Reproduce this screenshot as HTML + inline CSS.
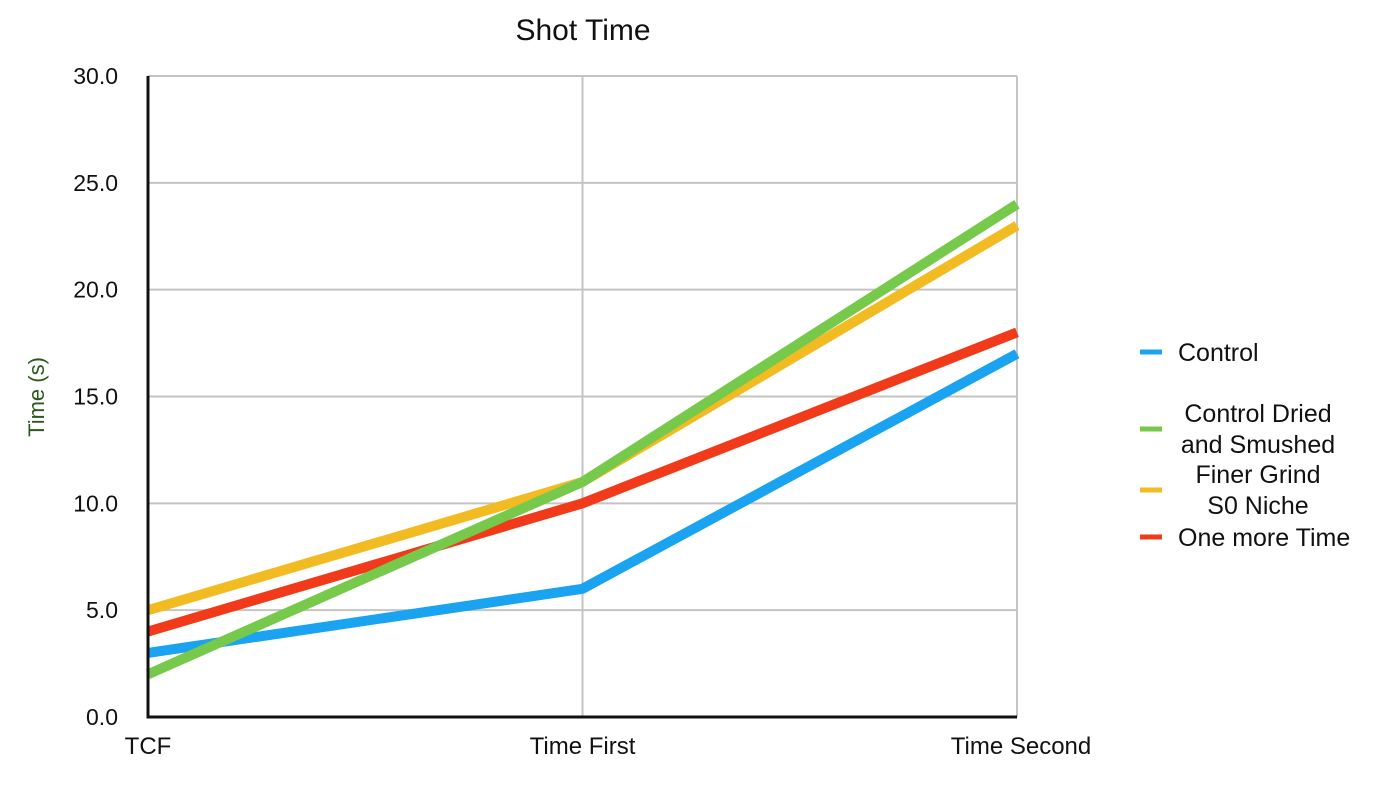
<!DOCTYPE html>
<html><head><meta charset="utf-8"><style>
body{margin:0;background:#fff;}
svg text{font-family:"Liberation Sans",sans-serif;}
</style></head><body>
<svg id="chart" width="1381" height="799" xmlns="http://www.w3.org/2000/svg">
<text x="583" y="40" font-size="30" text-anchor="middle" fill="#111">Shot Time</text>
<text transform="translate(44,397) rotate(-90)" font-size="22" text-anchor="middle" fill="#2a5a1a">Time (s)</text>
<g id="grid"></g><g id="series"></g><g id="axes"></g><g id="legend"></g>
</svg>
<script>
const categories=["TCF","Time First","Time Second"];
const yTicks=[0,5,10,15,20,25,30];
const seriesNames=["Control","Control Dried|and Smushed","Finer Grind|S0 Niche","One more Time"];
const control=[3,6,17];
const controlDried=[2,11,24];
const finerGrind=[5,11,23];
const oneMore=[4,10,18];
const colors=["#1aa3f0","#76c94a","#f2bb22","#f03a1a"];
const drawOrder=[0,2,3,1];
const values=[control,controlDried,finerGrind,oneMore];
const NS="http://www.w3.org/2000/svg";
const x0=148,x1=1017,yB=717,yT=76;
const xs=i=>x0+(x1-x0)*i/(categories.length-1);
const ys=v=>yB-(yB-yT)*v/30;
function mk(t,a,p){const e=document.createElementNS(NS,t);for(const k in a)e.setAttribute(k,a[k]);p.appendChild(e);return e;}
const grid=document.getElementById('grid'),axes=document.getElementById('axes'),ser=document.getElementById('series'),leg=document.getElementById('legend');
yTicks.forEach(v=>{
 if(v>0){const g=mk('line',{x1:x0,x2:x1,y1:ys(v),y2:ys(v),stroke:'#c4c4c4','stroke-width':2},grid);
 
 }
 const t=mk('text',{x:118,y:ys(v)+8,'font-size':23,'text-anchor':'end',fill:'#111'},axes);t.textContent=v.toFixed(1);
 
 
});
categories.forEach((c,i)=>{
 if(i>0){const g=mk('line',{x1:xs(i),x2:xs(i),y1:yT,y2:yB,stroke:'#c4c4c4','stroke-width':2},grid);
 
 }
 const t=mk('text',{x:xs(i)+(i==2?4:0),y:754,'font-size':24,'text-anchor':'middle',fill:'#111'},axes);t.textContent=c;
 
 
});
const ax=mk('path',{d:`M${x0} ${yT}V${yB}H${x1}`,stroke:'#111','stroke-width':3,fill:'none'},axes);


drawOrder.forEach(s=>{
 const d=values[s].map((v,i)=>(i?'L':'M')+xs(i)+' '+ys(v)).join('');
 const p=mk('path',{d:d,stroke:colors[s],'stroke-width':10,fill:'none','stroke-linejoin':'round'},ser);
 
 
});
const legY=[352,429,490,537];
seriesNames.forEach((n,s)=>{
 const l=mk('line',{x1:1140,x2:1162,y1:legY[s],y2:legY[s],stroke:colors[s],'stroke-width':5},leg);
 
 
 const parts=n.split('|');
 parts.forEach((p,k)=>{
  const yy=parts.length>1?legY[s]-15+k*31+8:legY[s]+9;
  const t=mk('text',{x:parts.length>1?1258:1178,y:yy,'font-size':25,'text-anchor':parts.length>1?'middle':'start',fill:'#111'},leg);
  t.textContent=p;
  
  
 });
});
</script>
</body></html>
